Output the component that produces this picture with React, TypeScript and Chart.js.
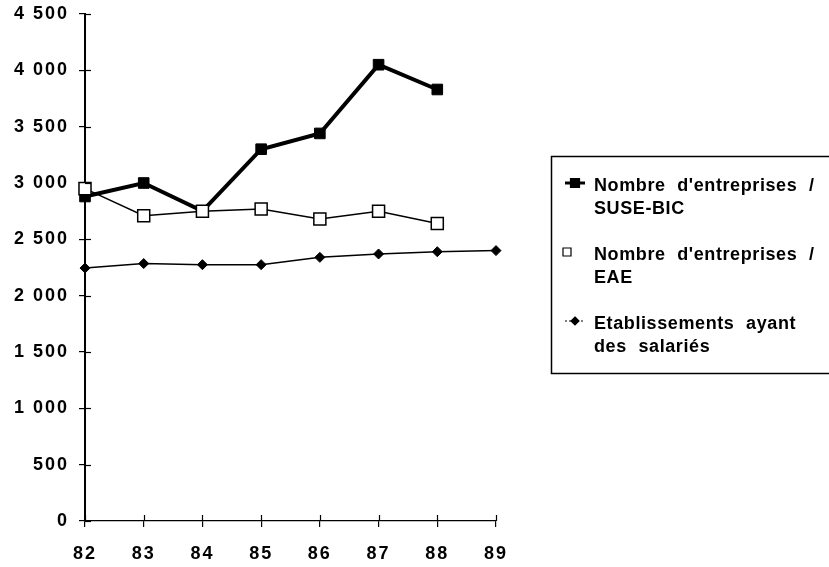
import React, { useEffect, useRef } from "react";
import { Chart, registerables } from "chart.js";

Chart.register(...registerables);

const categories = ["82", "83", "84", "85", "86", "87", "88", "89"];
const suseBic = [2880, 3000, 2750, 3300, 3440, 4050, 3830, null];
const eae = [2950, 2710, 2750, 2770, 2680, 2750, 2640, null];
const etablissements = [2245, 2285, 2275, 2275, 2340, 2370, 2390, 2400];
const seriesNames = [
  ["Nombre d'entreprises /", "SUSE-BIC"],
  ["Nombre d'entreprises /", "EAE"],
  ["Etablissements ayant", "des salariés"],
];
const yMin = 0;
const yMax = 4500;
const yStep = 500;

const FONT = "'Liberation Sans', Arial, Helvetica, sans-serif";

function fmt(v: number): string {
  return String(v).replace(/\B(?=(\d{3})+(?!\d))/g, " ");
}

const spacingPlugin = {
  id: "spacing",
  beforeUpdate(chart: any) {
    chart.ctx.letterSpacing = "2px";
  },
  beforeDraw(chart: any) {
    chart.ctx.letterSpacing = "2px";
  },
};

const crossTicksPlugin = {
  id: "crossTicks",
  afterDraw(chart: any) {
    const ctx = chart.ctx;
    const xs = chart.scales.x;
    const ys = chart.scales.y;
    const area = chart.chartArea;
    ctx.save();
    ctx.strokeStyle = "#000";
    ctx.lineWidth = 1.2;
    ys.ticks.forEach((t: any) => {
      const y = Math.round(ys.getPixelForValue(t.value)) + 0.5;
      ctx.beginPath();
      ctx.moveTo(area.left, y);
      ctx.lineTo(area.left + 6, y);
      ctx.stroke();
    });
    categories.forEach((_, i) => {
      const x = Math.round(xs.getPixelForValue(i)) + 0.5;
      ctx.beginPath();
      ctx.moveTo(x, area.bottom - 6);
      ctx.lineTo(x, area.bottom);
      ctx.stroke();
    });
    ctx.restore();
  },
};

const legendPlugin = {
  id: "customLegend",
  afterDraw(chart: any) {
    const ctx = chart.ctx;
    ctx.save();
    ctx.letterSpacing = "0.6px";
    (ctx as any).wordSpacing = "6px";
    ctx.strokeStyle = "#000";
    ctx.lineWidth = 1.5;
    ctx.strokeRect(551.5, 156.5, 300, 217);

    const entryY = [183, 252, 321];
    chart.data.datasets.forEach((ds: any, i: number) => {
      const y = entryY[i];
      const mx = i === 1 ? 567 : 575;
      ctx.strokeStyle = ds.borderColor;
      ctx.lineWidth = i === 0 ? 3 : 1;
      if (i !== 1) {
        if (i === 2) ctx.setLineDash([2, 2]);
        ctx.beginPath();
        ctx.moveTo(mx - 10, y);
        ctx.lineTo(mx + 10, y);
        ctx.stroke();
        ctx.setLineDash([]);
      }
      ctx.fillStyle = ds.pointBackgroundColor;
      ctx.lineWidth = 1.2;
      ctx.beginPath();
      if (ds.pointStyle === "rectRot") {
        const r = 4;
        ctx.moveTo(mx, y - r);
        ctx.lineTo(mx + r, y);
        ctx.lineTo(mx, y + r);
        ctx.lineTo(mx - r, y);
        ctx.closePath();
      } else {
        const s = i === 0 ? 4.5 : 4;
        ctx.rect(mx - s, y - s, 2 * s, 2 * s);
      }
      ctx.fill();
      ctx.stroke();

      ctx.fillStyle = "#000";
      ctx.font = `bold 18px ${FONT}`;
      ctx.textBaseline = "alphabetic";
      ctx.textAlign = "left";
      const lines = seriesNames[i];
      ctx.fillText(lines[0], 594, y + 8);
      ctx.fillText(lines[1], 594, y + 31);
    });
    ctx.restore();
  },
};

export default function App() {
  const ref = useRef<HTMLCanvasElement | null>(null);

  useEffect(() => {
    document.body.style.margin = "0";
    if (!ref.current) return;
    const chart = new Chart(ref.current, {
      type: "line",
      data: {
        labels: categories,
        datasets: [
          {
            label: seriesNames[0].join(" "),
            data: suseBic,
            borderColor: "#000",
            backgroundColor: "#000",
            borderWidth: 4,
            pointStyle: "rect",
            pointRadius: 7.5,
            pointBackgroundColor: "#000",
            pointBorderColor: "#000",
            pointBorderWidth: 1,
            tension: 0,
            clip: false,
            order: 2,
          },
          {
            label: seriesNames[1].join(" "),
            data: eae,
            borderColor: "#000",
            backgroundColor: "#fff",
            borderWidth: 1.5,
            pointStyle: "rect",
            pointRadius: 8.5,
            pointBackgroundColor: "#fff",
            pointBorderColor: "#000",
            pointBorderWidth: 1.5,
            tension: 0,
            clip: false,
            order: 0,
          },
          {
            label: seriesNames[2].join(" "),
            data: etablissements,
            borderColor: "#000",
            backgroundColor: "#000",
            borderWidth: 1.5,
            pointStyle: "rectRot",
            pointRadius: 5,
            pointBackgroundColor: "#000",
            pointBorderColor: "#000",
            pointBorderWidth: 1,
            tension: 0,
            clip: false,
            order: 1,
          },
        ],
      } as any,
      options: {
        responsive: false,
        animation: false,
        devicePixelRatio: 1,
        layout: { padding: { left: 0, top: 14, right: 333, bottom: 0 } },
        plugins: {
          legend: { display: false },
          tooltip: { enabled: false },
          title: { display: false },
        },
        scales: {
          x: {
            type: "category",
            offset: false,
            grid: {
              drawOnChartArea: false,
              drawTicks: true,
              tickLength: 6,
              color: "#000",
              lineWidth: 1.2,
            },
            border: { display: true, color: "#000", width: 1.2 },
            ticks: {
              color: "#000",
              font: { family: FONT, size: 18, weight: "bold" },
              padding: 16,
              maxRotation: 0,
              autoSkip: false,
            },
            afterFit(scale: any) {
              scale.height = 46;
              scale.paddingLeft = 0;
              scale.paddingRight = 0;
            },
          },
          y: {
            min: yMin,
            max: yMax,
            grid: {
              drawOnChartArea: false,
              drawTicks: true,
              tickLength: 6,
              color: "#000",
              lineWidth: 1.2,
            },
            border: { display: true, color: "#000", width: 2 },
            ticks: {
              stepSize: yStep,
              color: "#000",
              font: { family: FONT, size: 18, weight: "bold" },
              padding: 10,
              callback: (v: any) => fmt(Number(v)),
            },
            afterFit(scale: any) {
              scale.width = 85;
              scale.paddingTop = 0;
              scale.paddingBottom = 0;
            },
          },
        },
      } as any,
      plugins: [spacingPlugin, crossTicksPlugin, legendPlugin],
    });
    return () => chart.destroy();
  }, []);

  return (
    <div style={{ width: 829, height: 567, background: "#fff" }}>
      <canvas ref={ref} width={829} height={567} />
    </div>
  );
}
